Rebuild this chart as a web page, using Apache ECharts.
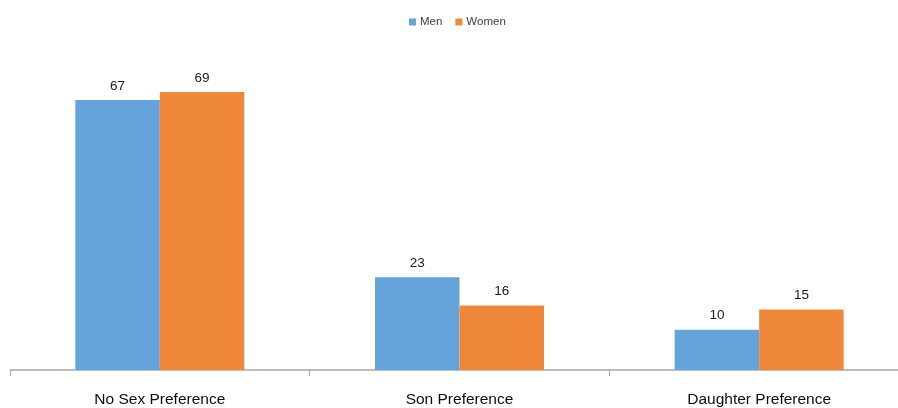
<!DOCTYPE html>
<html>
<head>
<meta charset="utf-8">
<script src="https://cdn.jsdelivr.net/npm/echarts@6/dist/echarts.min.js"></script>
<style>
  html, body { margin: 0; padding: 0; background: #ffffff; overflow: hidden; }
  #chart { width: 909px; height: 408px; }
</style>
</head>
<body>
<div id="chart"></div>
<script>
// Sex preference for children, by respondent sex (percent)
const categories = ['No Sex Preference', 'Son Preference', 'Daughter Preference'];
const seriesNames = ['Men', 'Women'];
const menValues = [67, 23, 10];
const womenValues = [69, 16, 15];

const colors = ['#65a3db', '#ef883b'];
const fontFamily = '"Liberation Sans", "DejaVu Sans", sans-serif';

const chart = echarts.init(document.getElementById('chart'), null, { renderer: 'canvas' });

function barSeries(name, values, color) {
  return {
    name: name,
    type: 'bar',
    data: values,
    barWidth: 84.5,
    barGap: '0%',
    itemStyle: { color: color },
    label: {
      show: true,
      position: 'top',
      distance: 7,
      color: '#1a1a1a',
      fontSize: 13.5,
      fontFamily: fontFamily
    },
    emphasis: { disabled: true }
  };
}

chart.setOption({
  animation: false,
  backgroundColor: '#ffffff',
  legend: {
    top: 11,
    left: 404,
    itemWidth: 7,
    itemHeight: 7,
    itemGap: 13,
    icon: 'rect',
    textStyle: { color: '#404040', fontSize: 11.5, fontFamily: fontFamily, padding: [0, 0, 0, -1] },
    data: seriesNames
  },
  grid: {
    left: 10,
    right: 0,
    top: 88,
    height: 285.5,
    containLabel: false
  },
  xAxis: {
    type: 'category',
    data: categories,
    boundaryGap: true,
    axisLine: { show: true, lineStyle: { color: '#a6a6a6', width: 1.5 } },
    axisTick: { show: true, length: 6, lineStyle: { color: '#a6a6a6', width: 1 } },
    axisLabel: { color: '#0d0d0d', fontSize: 15.5, fontFamily: fontFamily, margin: 22 }
  },
  yAxis: {
    type: 'value',
    min: 0,
    max: 70,
    show: false,
    splitLine: { show: false }
  },
  series: [
    barSeries(seriesNames[0], menValues, colors[0]),
    barSeries(seriesNames[1], womenValues, colors[1])
  ]
});
</script>
</body>
</html>
